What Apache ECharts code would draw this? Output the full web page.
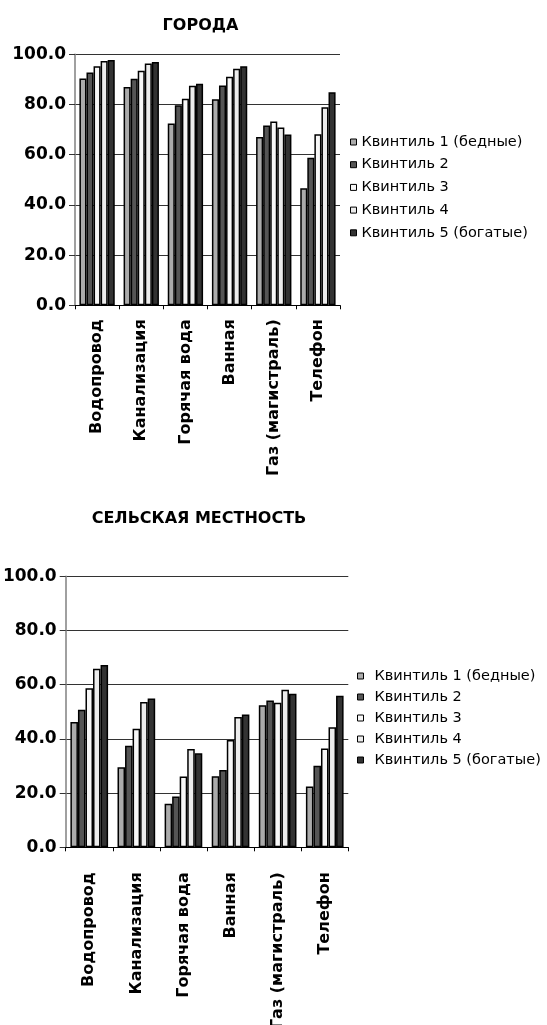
<!DOCTYPE html>
<html>
<head>
<meta charset="utf-8">
<script src="https://cdn.jsdelivr.net/npm/echarts@6/dist/echarts.min.js"></script>
<style>
html,body{margin:0;padding:0;background:#fff;}
#chart{width:547px;height:1025px;}
</style>
</head>
<body>
<div id="chart"></div>
<script>
const categories = ['Водопровод', 'Канализация', 'Горячая вода', 'Ванная', 'Газ (магистраль)', 'Телефон'];
const quintileNames = ['Квинтиль 1 (бедные)', 'Квинтиль 2', 'Квинтиль 3', 'Квинтиль 4', 'Квинтиль 5 (богатые)'];
const titleCity = 'ГОРОДА';
const titleRural = 'СЕЛЬСКАЯ МЕСТНОСТЬ';

const cityQ1 = [90.4, 87.0, 72.4, 82.1, 67.1, 46.6];
const cityQ2 = [92.7, 90.3, 79.7, 87.6, 71.6, 58.8];
const cityQ3 = [95.2, 93.4, 82.3, 91.1, 73.2, 68.1];
const cityQ4 = [97.3, 96.3, 87.5, 94.2, 70.8, 78.9];
const cityQ5 = [97.7, 96.9, 88.3, 95.2, 68.0, 84.9];

const ruralQ1 = [46.2, 29.5, 16.1, 26.2, 52.4, 22.4];
const ruralQ2 = [50.8, 37.5, 18.7, 28.5, 54.2, 30.1];
const ruralQ3 = [58.7, 43.7, 26.1, 39.6, 53.3, 36.5];
const ruralQ4 = [65.9, 53.6, 36.3, 48.1, 58.1, 44.3];
const ruralQ5 = [67.3, 54.9, 34.7, 49.0, 56.7, 55.9];

const colors = ['#ababab', '#555555', '#f7f7f7', '#ececec', '#333333'];

const cityData = [cityQ1, cityQ2, cityQ3, cityQ4, cityQ5];
const ruralData = [ruralQ1, ruralQ2, ruralQ3, ruralQ4, ruralQ5];

const boldFont = '"DejaVu Sans", sans-serif';
const regFont = '"DejaVu Sans", sans-serif';

function yAxisCfg(idx) {
  return {
    type: 'value', gridIndex: idx, min: 0, max: 100, interval: 20,
    axisLine: {show: true, lineStyle: {color: '#808080', width: 1.5}},
    axisTick: {show: true, length: 6, lineStyle: {color: '#333'}},
    splitLine: {show: true, lineStyle: {color: '#333', width: 1}},
    axisLabel: {
      formatter: v => v.toFixed(1), color: '#000', fontWeight: 'bold',
      fontFamily: boldFont, fontSize: 17, margin: 9
    }
  };
}
function xAxisCfg(idx, margin) {
  return {
    type: 'category', gridIndex: idx, data: categories,
    axisLine: {show: true, lineStyle: {color: '#000', width: 1}},
    axisTick: {show: true, length: 4, lineStyle: {color: '#000'}},
    axisLabel: {
      rotate: 90, interval: 0, color: '#000', fontWeight: 'bold',
      fontFamily: boldFont, fontSize: 16, margin: margin
    }
  };
}
const series = [];
[cityData, ruralData].forEach((set, gi) => {
  set.forEach((vals, qi) => {
    series.push({
      type: 'bar', name: quintileNames[qi], xAxisIndex: gi, yAxisIndex: gi,
      data: vals, barGap: '0%', barCategoryGap: '20%',
      itemStyle: {color: colors[qi], borderColor: '#000', borderWidth: 1.5},
      emphasis: {disabled: true}
    });
  });
});

const chart = echarts.init(document.getElementById('chart'), null, {renderer: 'canvas'});
chart.setOption({
  animation: false,
  backgroundColor: '#fff',
  title: [
    {text: titleCity, left: 195.5, top: 13, textAlign: 'center',
     textStyle: {fontFamily: boldFont, fontWeight: 'bold', fontSize: 16, color: '#000'}},
    {text: titleRural, left: 194, top: 506, textAlign: 'center',
     textStyle: {fontFamily: boldFont, fontWeight: 'bold', fontSize: 16, color: '#000'}}
  ],
  legend: [
    {orient: 'vertical', left: 345, top: 129, data: quintileNames,
     itemWidth: 6, itemHeight: 6, itemGap: 6.7, icon: 'rect',
     itemStyle: {borderWidth: 1},
     textStyle: {fontFamily: regFont, fontSize: 14.5, color: '#000', lineHeight: 16}},
    {orient: 'vertical', left: 352, top: 663, data: quintileNames,
     itemWidth: 6, itemHeight: 6, itemGap: 5, icon: 'rect',
     itemStyle: {borderWidth: 1},
     textStyle: {fontFamily: regFont, fontSize: 14.5, color: '#000', lineHeight: 16, padding: [0, 0, 0, 6]}}
  ],
  grid: [
    {left: 75, top: 54.3, width: 265, height: 251, outerBoundsMode: 'none', containLabel: false},
    {left: 65.7, top: 576.3, width: 282.6, height: 271, outerBoundsMode: 'none', containLabel: false}
  ],
  xAxis: [xAxisCfg(0, 14), xAxisCfg(1, 25)],
  yAxis: [yAxisCfg(0), yAxisCfg(1)],
  series: series
});
</script>
</body>
</html>
